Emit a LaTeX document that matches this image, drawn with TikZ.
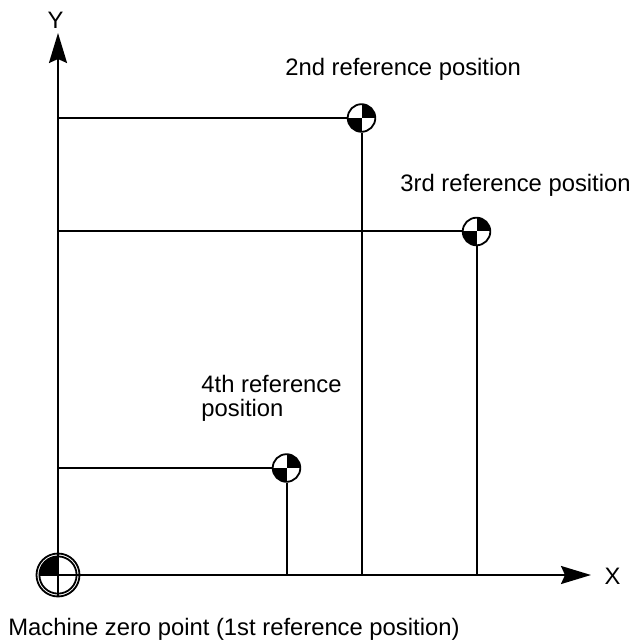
\documentclass[tikz,border=0pt]{standalone}
\usepackage{fontspec}
\setmainfont{Liberation Sans}
\usetikzlibrary{arrows.meta}
\tikzset{
  lbl/.style={inner sep=0pt, font=\fontsize{11.9}{11.75}\selectfont},
  refmark/.style={circle, draw, line width=0.9pt, minimum size=13.8pt, inner sep=0pt,
    path picture={
      \fill (path picture bounding box.center) rectangle (path picture bounding box.north east);
      \fill (path picture bounding box.center) rectangle (path picture bounding box.south west);
    }},
  zeromark/.style={circle, draw, line width=0.9pt, minimum size=18.6pt, inner sep=0pt,
    path picture={
      \fill (path picture bounding box.center) rectangle (path picture bounding box.north west);
    }},
  conn/.style={line width=1pt},
  axis/.style={line width=1pt, -{Stealth[length=15pt,width=9pt,inset=2pt]}}
}
\begin{document}
\begin{tikzpicture}[x=0.5pt,y=-0.5pt]
\useasboundingbox (0,0) rectangle (636,641);
% origin and axis ends
\coordinate (O) at (58,575);
\coordinate (ytip) at (58,33);
\coordinate (xtip) at (591,575);
\coordinate (obot) at (58,597);
% markers
\node[zeromark] (m0) at (O) {};
\draw[line width=0.9pt] (m0.center) circle (21.5);
\node[refmark] (m2) at (361.5,118) {};
\node[refmark] (m3) at (476.5,231.5) {};
\node[refmark] (m4) at (286.5,468) {};
% axes
\draw[axis] (obot) -- (ytip);
\draw[axis] (m0.west) -- (xtip);
% lines
\draw[conn] (O |- m2) -- (m2.west);
\draw[conn] (m2.south) -- (m2 |- O);
\draw[conn] (O |- m3) -- (m3.west);
\draw[conn] (m3.south) -- (m3 |- O);
\draw[conn] (O |- m4) -- (m4.west);
\draw[conn] (m4.south) -- (m4 |- O);
% labels
\node[lbl] (ylab) at (55.5,20) {Y};
\node[lbl] (xlab) at (612.5,576) {X};
\node[lbl, anchor=base west] (t2) at (285,76) {2nd reference position};
\node[lbl, anchor=base west] (t3) at (400,192) {3rd reference position};
\node[lbl, anchor=base west, align=left] (t4) at (201,416) {4th reference\\position};
\node[lbl, anchor=base west] (t0) at (8,635) {Machine zero point (1st reference position)};
\end{tikzpicture}
\end{document}
